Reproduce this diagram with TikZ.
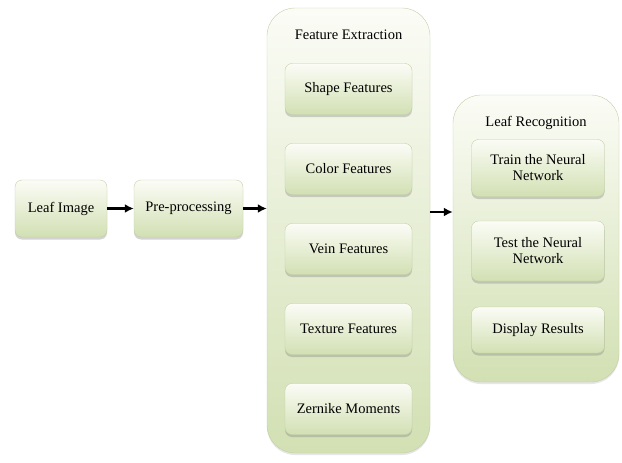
\documentclass[tikz,border=0pt]{standalone}
\usepackage{fontspec}
\setmainfont{Liberation Serif}
\usepackage{xcolor}
\usepackage{tikz}
\usetikzlibrary{shapes.geometric, arrows.meta, shadows}

\definecolor{leafgreen}{HTML}{D2E0B3}
\definecolor{paleleaf}{HTML}{FBFCF6}
\definecolor{leafedge}{HTML}{C3CFA6}

\begin{document}
\begin{tikzpicture}[x=1pt, y=-1pt, node distance=80pt, auto]
    % Define the style for the nodes
    \tikzstyle{block} = [rectangle, draw=leafedge, top color=paleleaf, bottom color=leafgreen, align=center, rounded corners=7pt, minimum width=127pt, minimum height=51pt, font=\fontsize{14.5}{16}\selectfont, drop shadow={shadow xshift=0pt, shadow yshift=-2.5pt, opacity=0.35}]
    \tikzstyle{group} = [rectangle, draw=leafedge, top color=paleleaf, bottom color=leafgreen, rounded corners=28pt, drop shadow={shadow xshift=0pt, shadow yshift=-2pt, opacity=0.2}]
    \tikzstyle{title} = [font=\fontsize{14.5}{16}\selectfont]
    \tikzstyle{line} = [draw, -{Latex[length=9pt, width=9pt]}, line width=2.6pt]

    \useasboundingbox (0,0) rectangle (622,463);

    % Place the containers
    \node [group, minimum width=163pt, minimum height=445pt] (featext) at (348.5,230.5) {};
    \node [group, minimum width=166pt, minimum height=287pt] (leafrec) at (536,238.5) {};
    \node [title] (feattitle) at (348.5,35) {Feature Extraction};
    \node [title] (rectitle) at (536,123) {Leaf Recognition};

    % Place the nodes
    \node [block, minimum width=92pt, minimum height=57pt] (leafimage) at (61,208.5) {Leaf Image};
    \node [block, minimum width=109pt, minimum height=57pt] (preprocess) at (188.5,208.5) {Pre-processing};

    \node [block] (shape) at (348.5,89) {Shape Features};
    \node [block, below of=shape] (color) {Color Features};
    \node [block, below of=color] (vein) {Vein Features};
    \node [block, below of=vein] (texture) {Texture Features};
    \node [block, below of=texture] (zernike) {Zernike Moments};

    \node [block, minimum width=133pt, minimum height=57pt] (train) at (538,168) {Train the Neural\\Network};
    \node [block, minimum width=133pt, minimum height=60pt] (test) at (538,251) {Test the Neural\\Network};
    \node [block, minimum width=133pt, minimum height=46pt] (display) at (538,330) {Display Results};

    % Connect the nodes with paths
    \path [line] (leafimage) -- (preprocess);
    \path [line] (preprocess) -- (featext.west |- preprocess.east);
    \path [line] (featext.east |- 0,212) -- (leafrec.west |- 0,212);
\end{tikzpicture}
\end{document}
